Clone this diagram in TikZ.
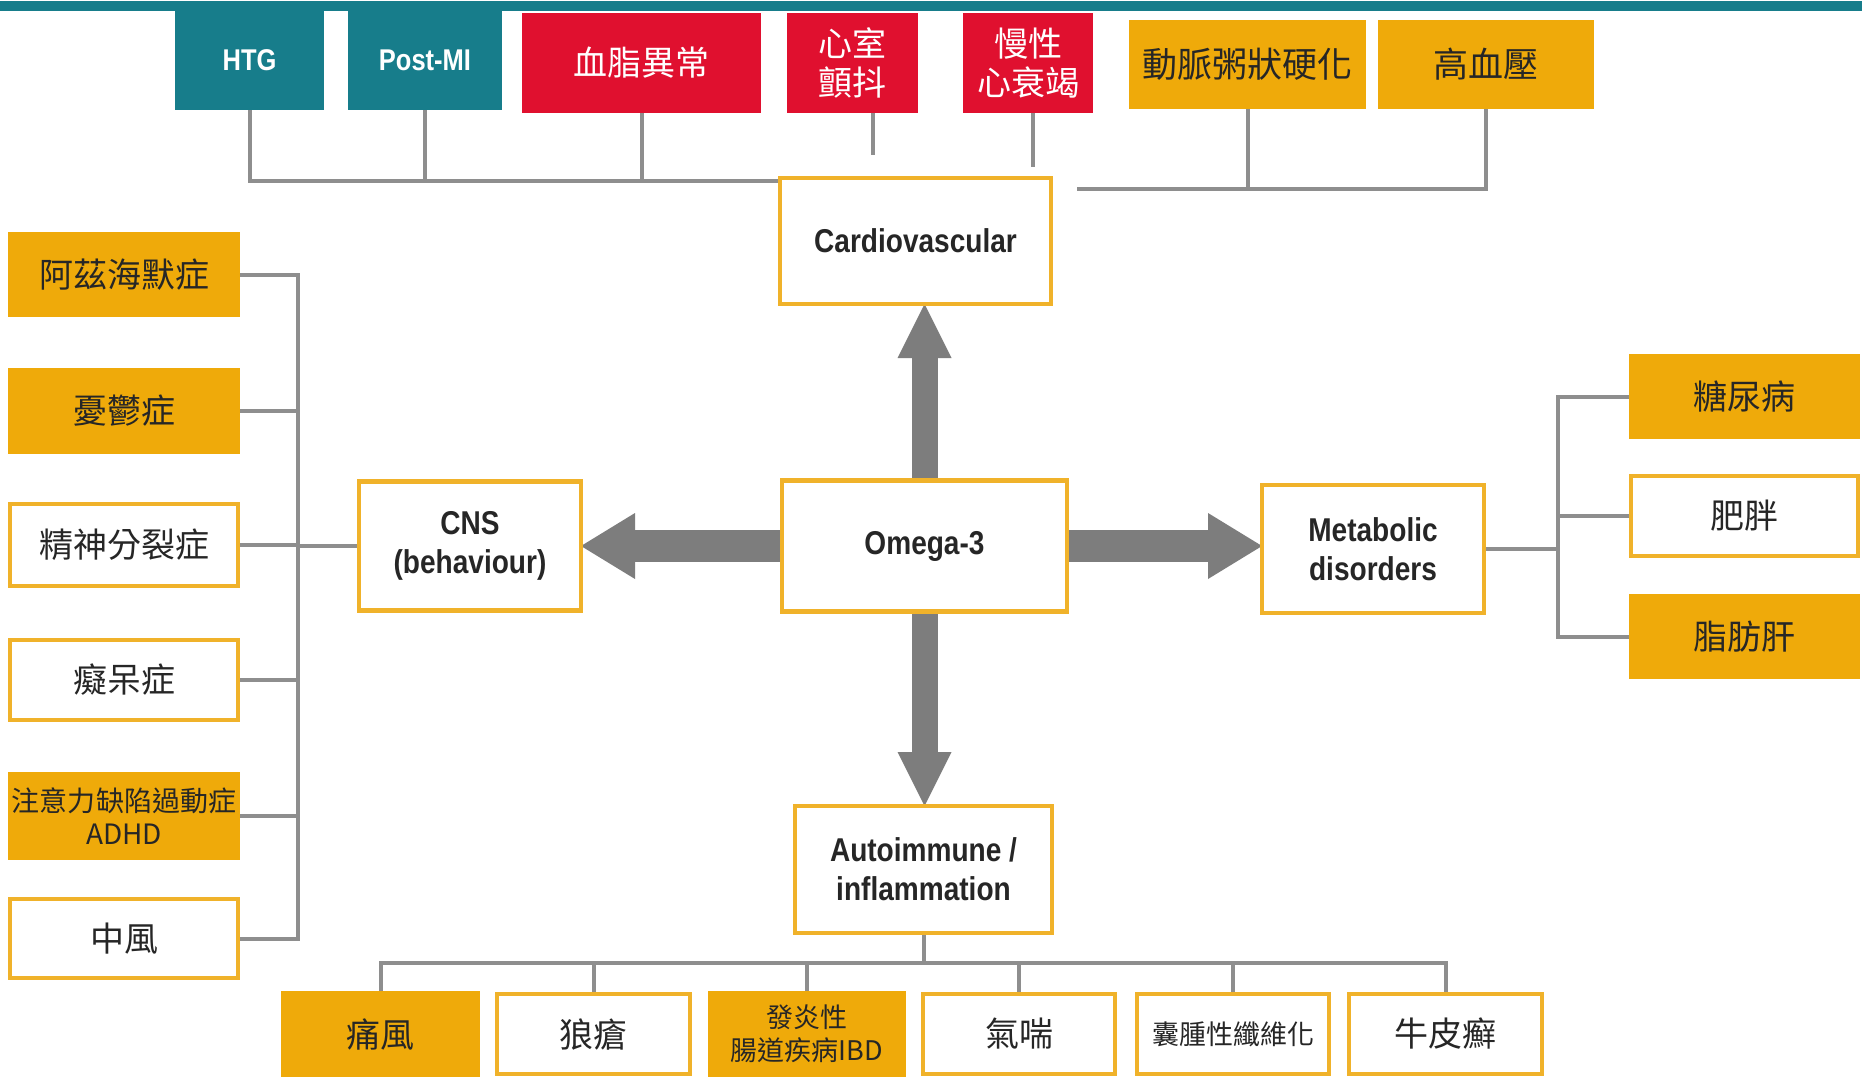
\documentclass[tikz,border=0pt]{standalone}
\usepackage{fontspec}
\usetikzlibrary{arrows.meta}
\newfontfamily\cjk{Noto Sans CJK TC}
\newfontfamily\lat[FakeStretch=0.85]{Liberation Sans}
\definecolor{tealc}{HTML}{177D8B}
\definecolor{redc}{HTML}{E0102F}
\definecolor{orng}{HTML}{EFAA0A}
\definecolor{bord}{HTML}{F0B22A}
\definecolor{txt}{HTML}{262626}
\definecolor{argrey}{HTML}{7D7D7D}
\definecolor{lngrey}{HTML}{8E8E8E}
\pgfdeclarelayer{bg}
\pgfsetlayers{bg,main}
\tikzset{
  box/.style={rectangle, inner sep=2pt, outer sep=0pt, align=center, line width=4.5pt},
  obox/.style={box, fill=orng, draw=orng, text=txt, font=\cjk\fontsize{34}{40}\selectfont},
  wbox/.style={box, fill=white, draw=bord, text=txt, font=\cjk\fontsize{34}{40}\selectfont},
  tbox/.style={box, fill=tealc, draw=tealc, text=white, font=\lat\bfseries\fontsize{30}{34}\selectfont},
  rbox/.style={box, fill=redc, draw=redc, text=white, font=\cjk\fontsize{34}{39}\selectfont},
  catbox/.style={box, fill=white, draw=bord, text=txt, font=\lat\bfseries\fontsize{33}{39}\selectfont},
  conn/.style={draw=lngrey, line width=4pt},
  bigarrow/.style={draw=argrey, -{Triangle[width=#1,length=54pt,line width=0pt]}},
}
\begin{document}
\begin{tikzpicture}[x=1pt,y=-1pt]
\useasboundingbox (0,0) rectangle (1862,1078);

% top row
\node[tbox, minimum width=145pt, minimum height=95pt] (htg) at (249.5,60) {HTG};
\node[tbox, minimum width=150pt, minimum height=95pt] (postmi) at (425,60) {Post-MI};
\node[rbox, minimum width=235pt, minimum height=96pt] (lipid) at (641.5,63) {血脂異常};
\node[rbox, minimum width=127pt, minimum height=96pt] (vf) at (852.5,63) {心室\\顫抖};
\node[rbox, minimum width=126pt, minimum height=96pt] (chf) at (1028,63) {慢性\\心衰竭};
\node[obox, font=\cjk\fontsize{35}{40}\selectfont, minimum width=233pt, minimum height=85pt] (ath) at (1247.5,64.5) {動脈粥狀硬化};
\node[obox, font=\cjk\fontsize{35}{40}\selectfont, minimum width=212pt, minimum height=85pt] (hbp) at (1486,64.5) {高血壓};

% category boxes
\node[catbox, minimum width=271pt, minimum height=126pt] (cardio) at (915.5,241) {Cardiovascular};
\node[catbox, minimum width=285pt, minimum height=131pt] (omega) at (924.5,546) {Omega-3};
\node[catbox, minimum width=222pt, minimum height=129pt] (cns) at (470,546) {CNS\\(behaviour)};
\node[catbox, minimum width=222pt, minimum height=128pt] (meta) at (1373,549) {Metabolic\\disorders};
\node[catbox, minimum width=257pt, minimum height=127pt] (auto) at (923.5,869.5) {Autoimmune /\\inflammation};

% left column
\node[obox, minimum width=228pt, minimum height=81pt] (alz) at (124,274.5) {阿茲海默症};
\node[obox, minimum width=228pt, minimum height=82pt] (dep) at (124,411) {憂鬱症};
\node[wbox, minimum width=228pt, minimum height=82pt] (schiz) at (124,545) {精神分裂症};
\node[wbox, minimum width=228pt, minimum height=80pt] (dem) at (124,680) {癡呆症};
\node[obox, font=\cjk\fontsize{28}{33}\selectfont, minimum width=228pt, minimum height=84pt] (adhd) at (124,816) {注意力缺陷過動症\\ADHD};
\node[wbox, minimum width=228pt, minimum height=79pt] (stroke) at (124,938.5) {中風};

% right column
\node[obox, minimum width=227pt, minimum height=81pt] (dm) at (1744.5,396.5) {糖尿病};
\node[wbox, minimum width=227pt, minimum height=80pt] (obe) at (1744.5,516) {肥胖};
\node[obox, minimum width=227pt, minimum height=81pt] (fl) at (1744.5,636.5) {脂肪肝};

% bottom row
\node[obox, minimum width=195pt, minimum height=82pt] (gout) at (380.5,1034) {痛風};
\node[wbox, minimum width=193pt, minimum height=80pt] (lupus) at (593.5,1034) {狼瘡};
\node[obox, font=\cjk\fontsize{27}{33}\selectfont, minimum width=194pt, minimum height=82pt] (ibd) at (807,1034) {發炎性\\腸道疾病IBD};
\node[wbox, minimum width=192pt, minimum height=80pt] (asthma) at (1019,1034) {氣喘};
\node[wbox, font=\cjk\fontsize{27}{33}\selectfont, minimum width=192pt, minimum height=80pt] (cf) at (1233,1034) {囊腫性纖維化};
\node[wbox, minimum width=193pt, minimum height=80pt] (pso) at (1445.5,1034) {牛皮癬};

\begin{pgfonlayer}{bg}
\fill[white] (0,0) rectangle (1862,1078);
\fill[tealc] (0,1) rectangle (1862,11);
% top connectors
\coordinate (tlbus) at (778,181);
\draw[conn] (htg.south) |- (tlbus);
\draw[conn] (postmi.south) |- (tlbus);
\draw[conn] (lipid.south) |- (tlbus);
\coordinate (vfend) at (873,155);
\draw[conn] (vf.south -| vfend) -- (vfend);
\coordinate (chfend) at (1033,167);
\draw[conn] (chf.south -| chfend) -- (chfend);
\coordinate (trbus) at (1077,189);
\draw[conn] (ath.south) |- (trbus);
\draw[conn] (hbp.south) |- (trbus);
% left bracket
\coordinate (lbus) at (298,546);
\foreach \n in {alz,dep,schiz,dem,adhd,stroke}{\draw[conn] (\n.east) -| (lbus);}
\draw[conn] (lbus) -- (cns.west);
% right bracket
\coordinate (rbus) at (1558,549);
\foreach \n in {dm,obe,fl}{\draw[conn] (\n.west) -| (rbus);}
\draw[conn] (meta.east) -- (rbus);
% bottom bracket
\coordinate (bbus) at (924,963);
\draw[conn] (auto.south) -- (auto.south |- bbus);
\foreach \n in {gout,lupus,ibd,asthma,cf,pso}{\draw[conn] (\n.north) |- (bbus);}
% big arrows
\draw[bigarrow=54pt, line width=26pt] (omega.north) -- (omega.north |- cardio.south);
\draw[bigarrow=54pt, line width=26pt] (omega.south) -- (omega.south |- auto.north);
\draw[bigarrow=66pt, line width=32pt] (omega.west) -- (omega.west -| cns.east);
\draw[bigarrow=66pt, line width=32pt] (omega.east) -- (omega.east -| meta.west);
\end{pgfonlayer}
\end{tikzpicture}
\end{document}
